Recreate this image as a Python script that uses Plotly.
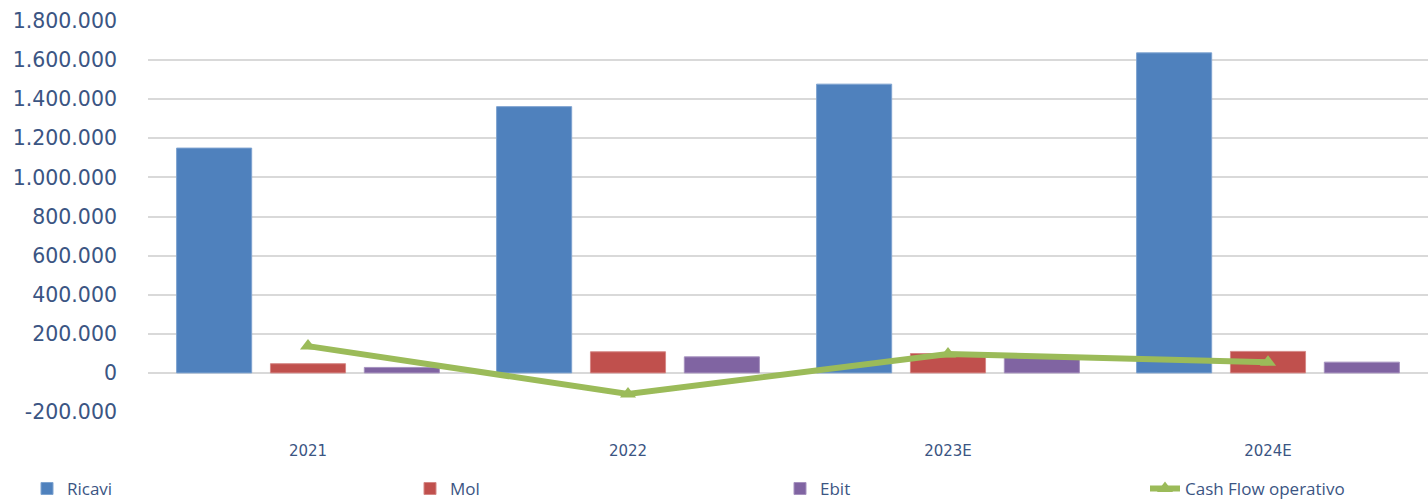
import plotly.graph_objects as go

categories = ["2021", "2022", "2023E", "2024E"]
ricavi = [1150000, 1362000, 1477000, 1637000]
mol = [47000, 108000, 99000, 110000]
ebit = [28000, 82000, 78000, 55000]
cash_flow = [137000, -108000, 97000, 55000]
y_ticks = [-200000, 0, 200000, 400000, 600000, 800000, 1000000, 1200000, 1400000, 1600000, 1800000]
y_tick_labels = ["-200.000", "0", "200.000", "400.000", "600.000", "800.000",
                 "1.000.000", "1.200.000", "1.400.000", "1.600.000", "1.800.000"]

text_color = "#3B5583"

fig = go.Figure()
fig.add_trace(go.Bar(name="Ricavi", x=categories, y=ricavi, legend="legend",
                     marker=dict(color="#4F81BD", line=dict(color="#7EA3D0", width=1))))
fig.add_trace(go.Bar(name="Mol", x=categories, y=mol, legend="legend2",
                     marker=dict(color="#C0504D", line=dict(color="#D58886", width=1))))
fig.add_trace(go.Bar(name="Ebit", x=categories, y=ebit, legend="legend3",
                     marker=dict(color="#8064A2", line=dict(color="#A692BF", width=1))))
fig.add_trace(go.Scatter(name="Cash Flow operativo", x=categories, y=cash_flow,
                         legend="legend4", mode="lines+markers",
                         line=dict(color="#9BBB59", width=6),
                         marker=dict(symbol="triangle-up", size=14, color="#9BBB59")))

def legend_at(px):
    return dict(orientation="h", xref="container", yref="container",
                x=px / 1428, xanchor="left", y=0.026, yanchor="middle",
                bgcolor="rgba(0,0,0,0)",
                font=dict(family="Open Sans", size=17, color=text_color))

fig.update_layout(
    width=1428, height=502,
    margin=dict(l=148, r=0, t=21, b=90, autoexpand=False),
    paper_bgcolor="white", plot_bgcolor="white",
    barmode="group", bargap=0.12, bargroupgap=0.2,
    font=dict(family="DejaVu Sans", color=text_color),
    showlegend=True,
    legend=legend_at(27),
    legend2=legend_at(410),
    legend3=legend_at(780),
    legend4=legend_at(1145),
    xaxis=dict(showgrid=False, showline=False, ticks="", automargin=False,
               ticklabelstandoff=28,
               tickfont=dict(family="DejaVu Sans", size=15, color=text_color)),
    yaxis=dict(range=[-200000, 1800000], tickvals=y_ticks, ticktext=y_tick_labels,
               showgrid=True, gridcolor="#D9D9D9", gridwidth=2,
               zeroline=True, zerolinecolor="#D9D9D9", zerolinewidth=2,
               showline=False, ticks="", ticklabelstandoff=30, automargin=False,
               tickfont=dict(family="DejaVu Sans", size=20.5, color=text_color)),
)

fig.write_html("out.html", config={"displayModeBar": False},
               post_script="document.body.style.margin='0';")
